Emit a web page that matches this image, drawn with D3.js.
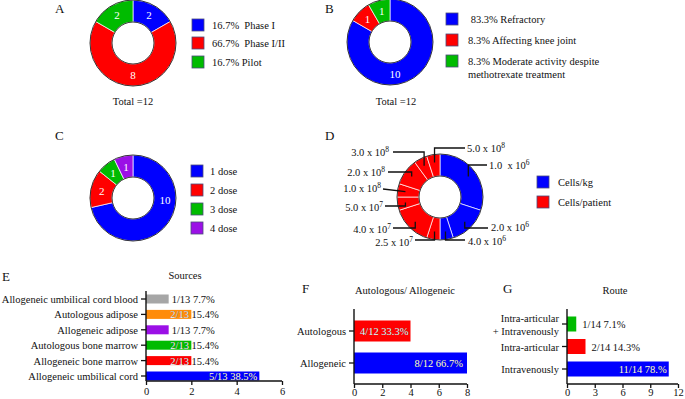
<!DOCTYPE html>
<html><head><meta charset="utf-8">
<script src="https://cdn.jsdelivr.net/npm/d3@7"></script>
<style>
body{margin:0;background:#fff}
svg{display:block}
</style>
</head><body>
<svg id="chart" width="685" height="399" font-family="Liberation Serif"></svg>
<script>
// ---------------- DATA ----------------
const phaseLabels = ["16.7%  Phase I", "66.7%  Phase I/II", "16.7% Pilot"];
const phaseValues = [2, 8, 2];
const indicationLabels = [[" 83.3% Refractory"], ["8.3% Affecting knee joint"], ["8.3% Moderate activity despite", "methotrexate treatment"]];
const indicationValues = [10, 1, 1];
const doseLabels = ["1 dose", "2 dose", "3 dose", "4 dose"];
const doseValues = [10, 2, 1, 1];
const cellDoseMantissa = ["1.0  x 10", "2.0 x 10", "4.0 x 10", "2.5 x 10", "4.0 x 10", "5.0 x 10", "1.0 x 10", "2.0 x 10", "3.0 x 10", "5.0 x 10"];
const cellDoseExponent = ["6", "6", "6", "7", "7", "7", "8", "8", "8", "8"];
const cellDoseUnit = [0, 0, 0, 1, 1, 1, 1, 1, 1, 1];
const cellDoseValues = [6, 3, 1, 1, 3, 1, 1, 2, 1, 1];
const cellUnitLabels = ["Cells/kg", "Cells/patient"];
const sourceLabels = ["Allogeneic umbilical cord blood", "Autologous adipose", "Allogeneic adipose", "Autologous bone marrow", "Allogeneic bone marrow", "Allogeneic umbilical cord"];
const sourceValues = [1, 2, 1, 2, 2, 5];
const sourceText = ["1/13 7.7%", "2/13 15.4%", "1/13 7.7%", "2/13 15.4%", "2/13 15.4%", "5/13 38.5%"];
const sourceTicks = [0, 2, 4, 6];
const originLabels = ["Autologous", "Allogeneic"];
const originValues = [4, 8];
const originText = ["4/12 33.3%", "8/12 66.7%"];
const originTicks = [0, 2, 4, 6, 8];
const routeLabels = [["Intra-articular", "+ Intravenously"], ["Intra-articular"], ["Intravenously"]];
const routeValues = [1, 2, 11];
const routeText = ["1/14 7.1%", "2/14 14.3%", "11/14 78.%"];
const routeTicks = [0, 3, 6, 9, 12];

// ---------------- STYLE ----------------
const BLUE = "#0000ff", RED = "#ff0000", GREEN = "#00bb00", PURPLE = "#9b10e6", GREY = "#a6a6a6", ORANGE = "#ff8c0a";
const FS = 10.5;
const FONT = "Liberation Serif";
const svg = d3.select("#chart");

function panelLetter(t, x, y) {
  svg.append("text").attr("x", x).attr("y", y).attr("font-size", 13).attr("fill", "#111").text(t);
}

function donut(cx, cy, values, colors, showLabels, angleOverride) {
  const R = 43, r = 21;
  const g = svg.append("g").attr("transform", `translate(${cx},${cy})`);
  const arcs = d3.pie().sort(null).value(d => d)(values);
  const arc = d3.arc().innerRadius(r).outerRadius(R);
  g.selectAll("path.s").data(arcs).join("path").attr("class", "s")
    .attr("d", arc).attr("fill", (d, i) => colors[i])
    .attr("stroke", "#fff").attr("stroke-width", 0.7);
  g.append("circle").attr("r", R).attr("fill", "none").attr("stroke", "#222").attr("stroke-width", 0.9);
  g.append("circle").attr("r", r).attr("fill", "none").attr("stroke", "#222").attr("stroke-width", 0.9);
  if (showLabels) {
    arcs.forEach((d, i) => {
      let a = (d.startAngle + d.endAngle) / 2;
      if (angleOverride && angleOverride[i] != null) a = angleOverride[i] * Math.PI / 180;
      const rr = 32;
      g.append("text").attr("x", rr * Math.sin(a)).attr("y", -rr * Math.cos(a) + 4)
        .attr("text-anchor", "middle").attr("font-size", 11).attr("fill", "#fff").text(d.data);
    });
  }
  return {g, arcs, R, r};
}

function legend(x, yCenters, colors, labels, textX) {
  labels.forEach((lab, i) => {
    svg.append("rect").attr("x", x).attr("y", yCenters[i] - 6).attr("width", 12).attr("height", 12)
      .attr("fill", colors[i]).attr("stroke", "#4b4b7a").attr("stroke-width", 0.8);
    const lines = Array.isArray(lab) ? lab : [lab];
    lines.forEach((ln, j) => {
      svg.append("text").attr("x", textX).attr("y", yCenters[i] + 4 + j * 13)
        .attr("font-size", FS).attr("fill", "#111").attr("xml:space", "preserve").text(ln);
    });
  });
}

// ---------------- PANEL A ----------------
panelLetter("A", 55, 13);
donut(133, 43, phaseValues, [BLUE, RED, GREEN], true, null);
legend(192, [25, 43, 62], [BLUE, RED, GREEN], phaseLabels, 212);
svg.append("text").attr("x", 133).attr("y", 105).attr("text-anchor", "middle").attr("font-size", FS).attr("fill", "#111").text("Total =12");

// ---------------- PANEL B ----------------
panelLetter("B", 325, 13);
donut(390, 42, indicationValues, [BLUE, RED, GREEN], true, [171, null, null]);
legend(446, [19, 40, 61], [BLUE, RED, GREEN], indicationLabels, 468);
svg.append("text").attr("x", 396).attr("y", 105).attr("text-anchor", "middle").attr("font-size", FS).attr("fill", "#111").text("Total =12");

// ---------------- PANEL C ----------------
panelLetter("C", 55, 140);
donut(133, 198, doseValues, [BLUE, RED, GREEN, PURPLE], true, [93, null, null, null]);
legend(191, [171, 190, 209, 228], [BLUE, RED, GREEN, PURPLE], doseLabels, 210);

// ---------------- PANEL D ----------------
panelLetter("D", 325, 140);
const dColors = cellDoseUnit.map(u => u === 0 ? BLUE : RED);
const dd = donut(440, 197, cellDoseValues, dColors, false, null);
// leader layout: [lineY (null = straight), lineEndX, textX, anchor, textY]
const dLeader = [
  [165, 487, 489, "start", 165],
  [228, 488, 491, "start", 227],
  [240, 465, 468, "start", 241],
  [240, 415, 413, "end", 242],
  [228, 393, 391, "end", 229],
  [206, 385, 383, "end", 207],
  [null, 383, 381, "end", 188],
  [172, 388, 385, "end", 172],
  [152, 393, 389, "end", 152],
  [148, 465, 467, "start", 148]
];
dd.arcs.forEach((d, i) => {
  const a = (d.startAngle + d.endAngle) / 2;
  const ax = 440 + 35 * Math.sin(a), ay = 197 - 35 * Math.cos(a);
  const L = dLeader[i];
  const pts = L[0] == null ? [[ax, ay], [L[1], L[4] + 1]] : [[ax, ay], [ax, L[0]], [L[1], L[0]]];
  svg.append("path").attr("d", d3.line()(pts)).attr("fill", "none").attr("stroke", "#111").attr("stroke-width", 1.3);
  const t = svg.append("text").attr("x", L[2]).attr("y", L[4] + 4).attr("text-anchor", L[3])
    .attr("font-size", FS).attr("fill", "#111").attr("xml:space", "preserve");
  t.append("tspan").text(cellDoseMantissa[i]);
  t.append("tspan").attr("dy", -4).attr("font-size", 7.5).text(cellDoseExponent[i]);
});
legend(537, [182, 202], [BLUE, RED], cellUnitLabels, 558);

// ---------------- BAR PANELS ----------------
function barPanel(opts) {
  const {cats, values, texts, ticks, colors, x0, x1, yTop, yBottom, centers, barH, labelMode, tickPad} = opts;
  const x = d3.scaleLinear().domain([0, ticks[ticks.length - 1]]).range([x0, x1]);
  const y = d3.scalePoint().domain(d3.range(cats.length)).range(centers);
  const g = svg.append("g");
  const clipBase = opts.id;
  values.forEach((v, i) => {
    const cy = y(i);
    g.append("rect").attr("x", x(0)).attr("y", cy - barH / 2).attr("width", x(v) - x(0)).attr("height", barH)
      .attr("fill", colors[i]);
    g.append("clipPath").attr("id", clipBase + i).append("rect")
      .attr("x", x(0)).attr("y", cy - barH / 2).attr("width", x(v) - x(0)).attr("height", barH);
  });
  values.forEach((v, i) => {
    const cy = y(i);
    const mode = labelMode(v, i);
    const mk = (fill, clip) => {
      const t = g.append("text").attr("y", cy + 4).attr("font-size", FS).attr("fill", fill).text(texts[i]);
      if (mode.anchor === "end") t.attr("text-anchor", "end").attr("x", x(v) + mode.dx);
      else t.attr("x", x(v) + mode.dx);
      if (clip) t.attr("clip-path", `url(#${clipBase + i})`);
    };
    mk("#111", false);
    mk("#fff", true);
  });
  const ax = g.append("g").attr("transform", `translate(0,${yBottom})`)
    .call(d3.axisBottom(x).tickValues(ticks).tickSize(4).tickPadding(tickPad).tickSizeOuter(0).tickFormat(d3.format("d")));
  ax.attr("font-family", FONT).attr("font-size", FS);
  ax.select(".domain").remove();
  ax.selectAll("line").attr("stroke", "#111").attr("stroke-width", 1.3);
  ax.selectAll("text").attr("fill", "#111");
  g.append("line").attr("x1", x0).attr("x2", x1).attr("y1", yBottom).attr("y2", yBottom).attr("stroke", "#111").attr("stroke-width", 1.4);
  g.append("line").attr("x1", x0).attr("x2", x0).attr("y1", yTop).attr("y2", yBottom).attr("stroke", "#111").attr("stroke-width", 1.4);
  cats.forEach((c, i) => {
    const cy = y(i);
    g.append("line").attr("x1", x0 - 5).attr("x2", x0).attr("y1", cy).attr("y2", cy).attr("stroke", "#111").attr("stroke-width", 1.3);
    const lines = Array.isArray(c) ? c : [c];
    lines.forEach((ln, j) => {
      g.append("text").attr("x", x0 - 8).attr("y", cy + 4 + (j - (lines.length - 1) / 2) * 13)
        .attr("text-anchor", "end").attr("font-size", FS).attr("fill", "#111").text(ln);
    });
  });
}

// PANEL E
panelLetter("E", 2, 281);
svg.append("text").attr("x", 185).attr("y", 279).attr("text-anchor", "middle").attr("font-size", FS).attr("fill", "#111").text("Sources");
barPanel({
  id: "clipE", cats: sourceLabels, values: sourceValues, texts: sourceText, ticks: sourceTicks,
  colors: [GREY, ORANGE, PURPLE, GREEN, RED, BLUE],
  x0: 146, x1: 282, yTop: 291, yBottom: 381, centers: [299, 376], barH: 9, tickPad: 3,
  labelMode: (v) => v >= 4 ? {anchor: "end", dx: -2} : (v >= 2 ? {anchor: "start", dx: -21} : {anchor: "start", dx: 3})
});

// PANEL F
panelLetter("F", 302, 293);
svg.append("text").attr("x", 405).attr("y", 294).attr("text-anchor", "middle").attr("font-size", FS).attr("fill", "#111").text("Autologous/ Allogeneic");
barPanel({
  id: "clipF", cats: originLabels, values: originValues, texts: originText, ticks: originTicks,
  colors: [RED, BLUE],
  x0: 354, x1: 467, yTop: 309, yBottom: 384, centers: [331, 363], barH: 21, tickPad: 1,
  labelMode: (v) => ({anchor: "end", dx: v >= 8 ? -4 : -2})
});

// PANEL G
panelLetter("G", 503, 293);
svg.append("text").attr("x", 615).attr("y", 294).attr("text-anchor", "middle").attr("font-size", FS).attr("fill", "#111").text("Route");
barPanel({
  id: "clipG", cats: routeLabels, values: routeValues, texts: routeText, ticks: routeTicks,
  colors: [GREEN, RED, BLUE],
  x0: 567, x1: 678, yTop: 309, yBottom: 384, centers: [324, 369], barH: 15, tickPad: 1,
  labelMode: (v) => v >= 4 ? {anchor: "end", dx: -2} : {anchor: "start", dx: 6}
});
</script>
</body></html>
